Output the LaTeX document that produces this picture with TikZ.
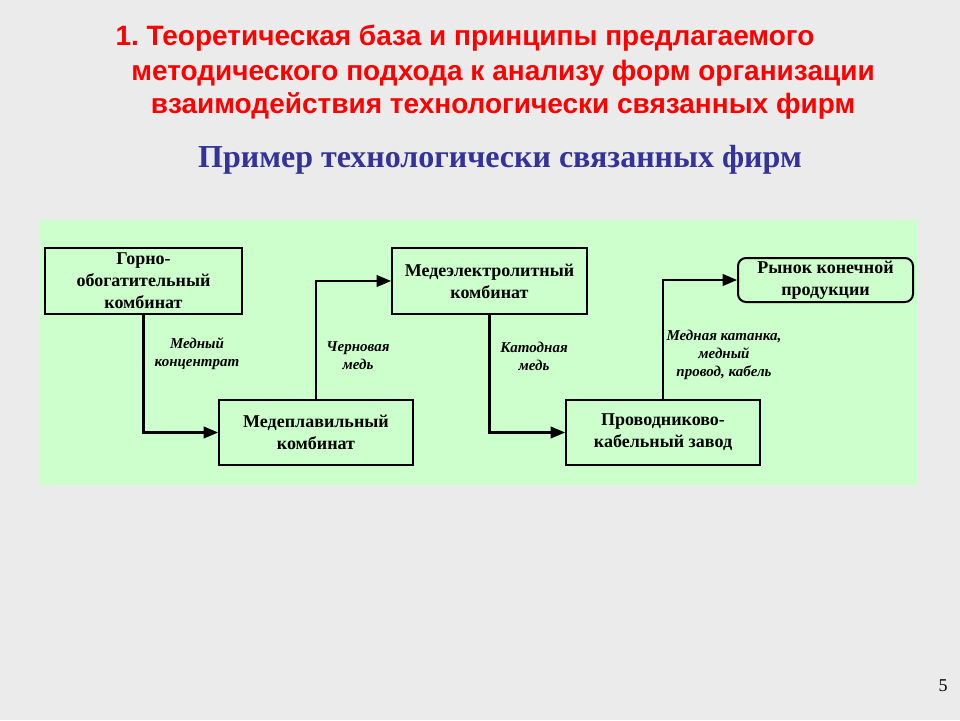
\documentclass[tikz,border=0pt]{standalone}
\usepackage{fontspec}
\setmainfont{Liberation Serif}
\newfontfamily\headfont{Liberation Sans}
\usetikzlibrary{arrows}
\definecolor{slidegray}{HTML}{EBEBEB}
\definecolor{panelgreen}{HTML}{CCFFCC}
\definecolor{titlered}{HTML}{FF0000}
\definecolor{subblue}{HTML}{333399}
\begin{document}
\begin{tikzpicture}[x=1pt,y=-1pt]
    	\tikzstyle{firmbox} =
    	[draw = black,
    	line width = 2pt,
    	fill = panelgreen,
    	align = center,
    	inner sep = 0pt,
    	font = \fontsize{18}{22}\selectfont\bfseries
    	]
    	\tikzstyle{flowlabel} =
    	[align = center,
    	font = \fontsize{15}{18}\selectfont\bfseries\itshape
    	]
    	\tikzstyle{flowarrow} =
    	[line width = 2.4pt,
    	draw = black,
    	-triangle 45
    	]
    	\tikzstyle{titleline} =
    	[text = titlered,
    	font = \headfont\fontsize{28}{32}\selectfont\bfseries
    	]

        \fill[slidegray] (0,0) rectangle (960,720);
        \useasboundingbox (0,0) rectangle (960,720);
        \fill[panelgreen] (40,220) rectangle (918,485);

        % title
        \node (title1) [titleline, anchor=west] at (112,38) {1.\ Теоретическая база и принципы предлагаемого};
        \node (title2) [titleline] at (503,73) {методического подхода к анализу форм организации};
        \node (title3) [titleline] at (503,106) {взаимодействия технологически связанных фирм};
        \node (subtitle) [text=subblue, font=\fontsize{32}{36}\selectfont\bfseries]
        	at (500,160) {Пример технологически связанных фирм};

        % firms
        \node (mining) [firmbox, minimum width=197, minimum height=66]
        	at (143.5,281) {Горно-\\обогатительный\\комбинат};
        \node (smelter) [firmbox, minimum width=194, minimum height=65]
        	at (316,432.5) {Медеплавильный\\комбинат};
        \node (refinery) [firmbox, minimum width=195, minimum height=66]
        	at (489.5,281) {Медеэлектролитный\\комбинат};
        \node (cable) [firmbox, minimum width=194, minimum height=65]
        	at (663,432.5) {Проводниково-\\кабельный завод};
        \node (market) [firmbox, rounded corners=8pt, minimum width=175, minimum height=44]
        	at (825.5,280) {Рынок конечной\\продукции};

        % flows
        \draw[flowarrow] (mining.south) |- (smelter.west);
        \draw[flowarrow] (smelter.north) |- (refinery.west);
        \draw[flowarrow] (refinery.south) |- (cable.west);
        \draw[flowarrow] (cable.north) |- (market.west);

        \node (concentrate) [flowlabel] at (197,354) {Медный\\концентрат};
        \node (blister) [flowlabel] at (358,356) {Черновая\\медь};
        \node (cathode) [flowlabel] at (534,356) {Катодная\\медь};
        \node (wire) [flowlabel] at (724,355) {Медная катанка,\\медный\\провод, кабель};

        \node (pagenum) [font=\fontsize{18}{20}\selectfont] at (943,686) {5};
\end{tikzpicture}
\end{document}
